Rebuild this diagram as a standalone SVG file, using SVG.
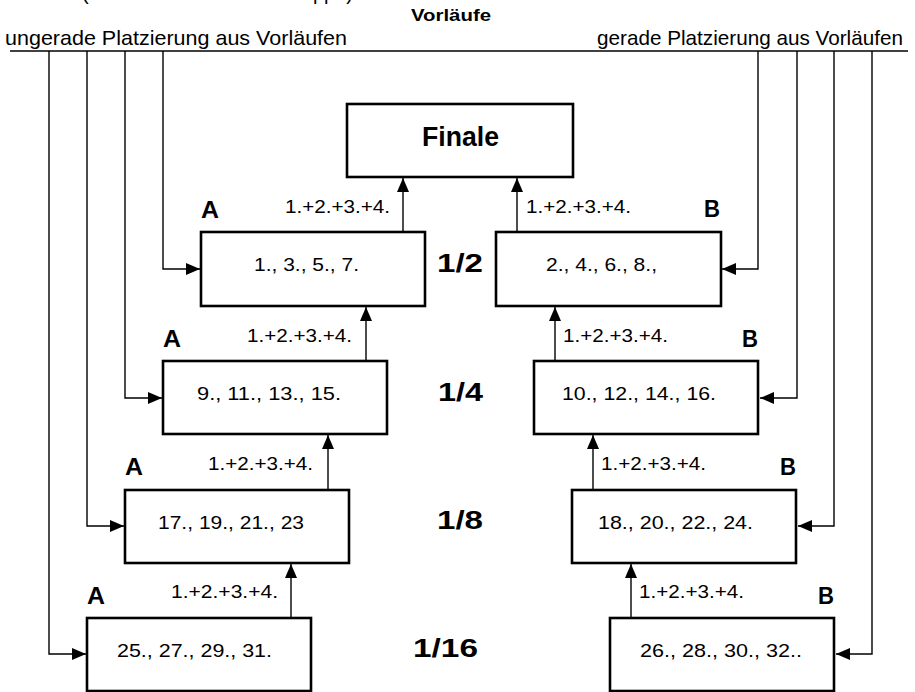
<svg xmlns="http://www.w3.org/2000/svg" width="915" height="692" viewBox="0 0 915 692">
<defs>
<style>
.bx{fill:#fff;stroke:#000;stroke-width:2.6}
.ln{fill:none;stroke:#000;stroke-width:1.4}
.ar{fill:none;stroke:#000;stroke-width:1.4;marker-end:url(#ah)}
text{font-family:"Liberation Sans",Arial,sans-serif;fill:#000}
.hd{font-size:21px}
.lb{font-size:18.5px}
.nt{font-size:19px}
.ab{font-size:23px;font-weight:bold}
.rd{font-size:25px;font-weight:bold}
</style>
<marker id="ah" markerUnits="userSpaceOnUse" markerWidth="14" markerHeight="12" refX="14" refY="6" orient="auto">
<path d="M0,0 L14,6 L0,12 z" fill="#000"/>
</marker>
</defs>
<rect width="915" height="692" fill="#fff"/>

<g id="header">
<text x="82" y="0" class="hd" textLength="271" lengthAdjust="spacingAndGlyphs">(Anzahl der Vorläufe / Gruppe)</text>
<text x="411" y="21" style="font-size:17px;font-weight:bold" textLength="80" lengthAdjust="spacingAndGlyphs">Vorläufe</text>
<text x="5" y="45" class="hd" textLength="342" lengthAdjust="spacingAndGlyphs">ungerade Platzierung aus Vorläufen</text>
<text x="597" y="45" class="hd" textLength="306" lengthAdjust="spacingAndGlyphs">gerade Platzierung aus Vorläufen</text>
</g>

<g id="connectors">
<path class="ln" d="M10,51 H908"/>
<path class="ar" d="M163,51 V269 H200"/>
<path class="ar" d="M125,51 V398 H162"/>
<path class="ar" d="M87,51 V526 H124"/>
<path class="ar" d="M49,51 V654 H86"/>
<path class="ar" d="M758,51 V269 H722"/>
<path class="ar" d="M797,51 V398 H760"/>
<path class="ar" d="M834,51 V526 H798"/>
<path class="ar" d="M872,51 V654 H836"/>
<path class="ar" d="M403,232 V178"/>
<path class="ar" d="M517,232 V178"/>
<path class="ar" d="M366,361 V307"/>
<path class="ar" d="M555,361 V307"/>
<path class="ar" d="M328,490 V435"/>
<path class="ar" d="M593,490 V435"/>
<path class="ar" d="M291,618 V564"/>
<path class="ar" d="M631,618 V564"/>
</g>

<g id="finale">
<rect class="bx" x="347" y="104" width="226" height="73"/>
<text x="422" y="146" style="font-size:28px;font-weight:bold" textLength="77" lengthAdjust="spacingAndGlyphs">Finale</text>
</g>

<g id="round-labels">
<text class="rd" x="437" y="272" textLength="46" lengthAdjust="spacingAndGlyphs">1/2</text>
<text class="rd" x="438" y="401" textLength="45" lengthAdjust="spacingAndGlyphs">1/4</text>
<text class="rd" x="437" y="529" textLength="46" lengthAdjust="spacingAndGlyphs">1/8</text>
<text class="rd" x="413" y="657" textLength="65" lengthAdjust="spacingAndGlyphs">1/16</text>
</g>

<g id="half-A">
<rect class="bx" x="201" y="232" width="224" height="74"/>
<text class="ab" x="201" y="218" textLength="18" lengthAdjust="spacingAndGlyphs">A</text>
<text class="lb" x="285" y="213" textLength="105" lengthAdjust="spacingAndGlyphs">1.+2.+3.+4.</text>
<text class="nt" x="254" y="271" textLength="105" lengthAdjust="spacingAndGlyphs">1., 3., 5., 7.</text>
</g>
<g id="half-B">
<rect class="bx" x="496" y="232" width="225" height="74"/>
<text class="ab" x="704" y="217" textLength="16" lengthAdjust="spacingAndGlyphs">B</text>
<text class="lb" x="526" y="213" textLength="105" lengthAdjust="spacingAndGlyphs">1.+2.+3.+4.</text>
<text class="nt" x="546" y="271" textLength="111" lengthAdjust="spacingAndGlyphs">2., 4., 6., 8.,</text>
</g>

<g id="quarter-A">
<rect class="bx" x="163" y="361" width="224" height="73"/>
<text class="ab" x="163" y="347" textLength="18" lengthAdjust="spacingAndGlyphs">A</text>
<text class="lb" x="247" y="342" textLength="105" lengthAdjust="spacingAndGlyphs">1.+2.+3.+4.</text>
<text class="nt" x="197" y="400" textLength="144" lengthAdjust="spacingAndGlyphs">9., 11., 13., 15.</text>
</g>
<g id="quarter-B">
<rect class="bx" x="534" y="361" width="224" height="73"/>
<text class="ab" x="742" y="347" textLength="16" lengthAdjust="spacingAndGlyphs">B</text>
<text class="lb" x="563" y="342" textLength="105" lengthAdjust="spacingAndGlyphs">1.+2.+3.+4.</text>
<text class="nt" x="562" y="400" textLength="154" lengthAdjust="spacingAndGlyphs">10., 12., 14., 16.</text>
</g>

<g id="eighth-A">
<rect class="bx" x="125" y="490" width="224" height="73"/>
<text class="ab" x="125" y="475" textLength="18" lengthAdjust="spacingAndGlyphs">A</text>
<text class="lb" x="208" y="470" textLength="105" lengthAdjust="spacingAndGlyphs">1.+2.+3.+4.</text>
<text class="nt" x="158" y="529" textLength="146" lengthAdjust="spacingAndGlyphs">17., 19., 21., 23</text>
</g>
<g id="eighth-B">
<rect class="bx" x="572" y="490" width="224" height="73"/>
<text class="ab" x="780" y="475" textLength="16" lengthAdjust="spacingAndGlyphs">B</text>
<text class="lb" x="601" y="470" textLength="105" lengthAdjust="spacingAndGlyphs">1.+2.+3.+4.</text>
<text class="nt" x="598" y="529" textLength="155" lengthAdjust="spacingAndGlyphs">18., 20., 22., 24.</text>
</g>

<g id="sixteenth-A">
<rect class="bx" x="87" y="618" width="224" height="73"/>
<text class="ab" x="87" y="604" textLength="18" lengthAdjust="spacingAndGlyphs">A</text>
<text class="lb" x="171" y="598" textLength="107" lengthAdjust="spacingAndGlyphs">1.+2.+3.+4.</text>
<text class="nt" x="117" y="657" textLength="155" lengthAdjust="spacingAndGlyphs">25., 27., 29., 31.</text>
</g>
<g id="sixteenth-B">
<rect class="bx" x="610" y="618" width="224" height="73"/>
<text class="ab" x="818" y="604" textLength="16" lengthAdjust="spacingAndGlyphs">B</text>
<text class="lb" x="639" y="598" textLength="105" lengthAdjust="spacingAndGlyphs">1.+2.+3.+4.</text>
<text class="nt" x="640" y="657" textLength="162" lengthAdjust="spacingAndGlyphs">26., 28., 30., 32..</text>
</g>
</svg>
